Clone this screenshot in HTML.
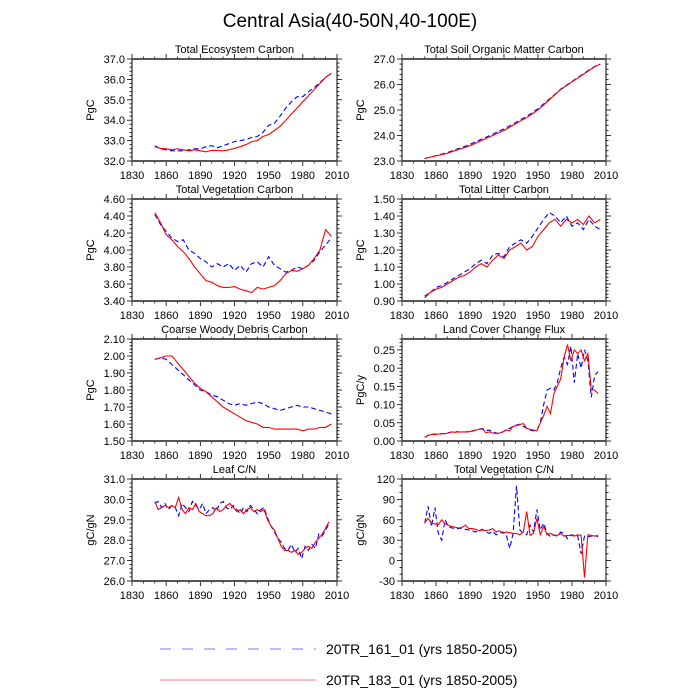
<!DOCTYPE html>
<html><head><meta charset="utf-8"><style>
body{margin:0;background:#fff;}
svg{display:block;font-family:"Liberation Sans",sans-serif;}
</style></head><body>
<svg id="c" width="700" height="700" viewBox="0 0 700 700" xmlns="http://www.w3.org/2000/svg">
<text x="350" y="27" font-size="19" text-anchor="middle">Central Asia(40-50N,40-100E)</text>
<g>
<line x1="160" y1="649" x2="316" y2="649" stroke="#7777ff" stroke-width="1" stroke-dasharray="11,11"/>
<text x="326" y="654" font-size="14">20TR_161_01 (yrs 1850-2005)</text>
<line x1="160" y1="680" x2="316" y2="680" stroke="#ff7777" stroke-width="1"/>
<text x="326" y="685" font-size="14">20TR_183_01 (yrs 1850-2005)</text>
</g>
</svg>
<script>
const years5 = [];
for (let y = 1850; y <= 2005; y += 5) years5.push(y);
const years3 = [];
for (let y = 1850; y <= 2003; y += 3) years3.push(y);

const tecRed = [32.7,32.62,32.6,32.55,32.6,32.55,32.5,32.55,32.5,32.45,32.52,32.52,32.5,32.55,32.62,32.7,32.8,32.95,33.0,33.2,33.3,33.5,33.7,34.0,34.3,34.6,34.9,35.2,35.5,35.8,36.1,36.3];
const tecBlue = [32.75,32.6,32.55,32.5,32.5,32.5,32.55,32.6,32.6,32.7,32.75,32.65,32.75,32.85,32.95,33.0,33.05,33.15,33.2,33.4,33.75,33.85,34.2,34.6,34.9,35.15,35.15,35.4,35.6,35.85,36.1,36.3];
const somRed = [23.1,23.15,23.2,23.25,23.3,23.38,23.45,23.52,23.6,23.7,23.8,23.9,24.0,24.1,24.2,24.32,24.45,24.58,24.7,24.85,25.0,25.2,25.4,25.6,25.8,25.95,26.1,26.25,26.4,26.55,26.7,26.8];
const somBlue = [23.1,23.15,23.21,23.27,23.33,23.41,23.49,23.57,23.65,23.75,23.85,23.95,24.05,24.16,24.26,24.38,24.5,24.63,24.75,24.9,25.05,25.24,25.43,25.62,25.82,25.97,26.12,26.27,26.42,26.57,26.71,26.8];
const tvcRed = [4.44,4.32,4.18,4.12,4.04,3.98,3.90,3.80,3.72,3.64,3.62,3.58,3.56,3.56,3.57,3.54,3.52,3.50,3.56,3.54,3.56,3.58,3.64,3.72,3.76,3.75,3.78,3.82,3.90,4.00,4.24,4.16];
const tvcBlue = [4.42,4.30,4.22,4.14,4.10,4.12,4.00,3.96,3.90,3.86,3.80,3.84,3.80,3.84,3.76,3.82,3.74,3.84,3.86,3.80,3.92,3.82,3.78,3.74,3.76,3.80,3.78,3.82,3.88,3.98,4.06,4.14];
const litRed = [0.93,0.95,0.97,0.98,1.00,1.02,1.04,1.05,1.07,1.10,1.12,1.10,1.14,1.17,1.15,1.20,1.22,1.24,1.20,1.22,1.28,1.32,1.36,1.38,1.34,1.38,1.36,1.38,1.35,1.40,1.36,1.38];
const litBlue = [0.92,0.95,0.98,0.99,1.01,1.03,1.05,1.07,1.09,1.12,1.14,1.12,1.17,1.18,1.16,1.22,1.24,1.26,1.24,1.28,1.33,1.38,1.42,1.40,1.36,1.40,1.34,1.36,1.32,1.38,1.34,1.32];
const cwdRed = [1.98,1.99,2.00,2.00,1.96,1.92,1.88,1.84,1.81,1.79,1.76,1.73,1.70,1.68,1.66,1.64,1.62,1.61,1.60,1.58,1.58,1.57,1.57,1.57,1.57,1.57,1.56,1.57,1.57,1.58,1.58,1.60];
const cwdBlue = [1.98,1.99,1.98,1.95,1.92,1.89,1.86,1.83,1.80,1.79,1.77,1.76,1.74,1.72,1.71,1.72,1.71,1.72,1.73,1.72,1.70,1.69,1.68,1.69,1.70,1.71,1.70,1.70,1.69,1.68,1.67,1.66];
const lccRed = [0.01,0.015,0.018,0.018,0.019,0.02,0.02,0.022,0.025,0.024,0.025,0.025,0.025,0.025,0.028,0.03,0.032,0.033,0.022,0.025,0.022,0.02,0.022,0.025,0.03,0.028,0.04,0.042,0.045,0.048,0.035,0.032,0.03,0.028,0.05,0.07,0.095,0.075,0.13,0.15,0.17,0.23,0.265,0.22,0.25,0.24,0.25,0.22,0.24,0.14,0.14,0.13];
const lccBlue = [0.01,0.016,0.018,0.019,0.018,0.02,0.021,0.023,0.025,0.026,0.025,0.024,0.025,0.026,0.027,0.03,0.033,0.034,0.028,0.03,0.025,0.022,0.02,0.025,0.032,0.035,0.04,0.044,0.046,0.04,0.035,0.03,0.028,0.03,0.05,0.1,0.14,0.145,0.14,0.16,0.2,0.23,0.21,0.26,0.16,0.24,0.2,0.25,0.22,0.12,0.18,0.19];
const leafRed = [29.9,29.5,29.6,29.7,29.6,29.7,29.6,30.1,29.5,29.3,29.6,29.5,29.8,29.4,29.3,29.2,29.2,29.3,29.6,29.4,29.5,29.7,29.8,29.6,29.4,29.5,29.3,29.5,29.6,29.4,29.5,29.4,29.5,29.0,28.7,28.5,28.1,27.7,27.5,27.5,27.4,27.5,27.3,27.4,27.6,27.7,27.6,27.9,28.1,28.3,28.6,28.9];
const leafBlue = [29.8,29.9,29.6,29.8,29.5,29.7,29.6,29.2,29.8,29.6,29.4,29.9,29.7,29.5,29.8,29.3,29.5,29.6,29.4,29.8,29.9,29.6,29.5,29.7,29.5,29.3,29.6,29.4,29.7,29.5,29.3,29.5,29.6,29.1,28.7,28.4,28.1,27.9,27.6,27.5,27.8,27.4,27.6,27.1,27.7,27.5,27.8,27.6,28.3,28.2,28.5,28.8];
const vcnRed = [56,62,55,54,53,60,54,52,50,49,48,49,52,47,47,46,44,45,44,45,47,42,44,40,42,41,40,40,38,42,72,37,40,62,38,50,38,40,37,37,40,36,37,37,36,38,37,-25,38,37,36,37];
const vcnBlue = [55,80,50,78,40,30,60,50,48,47,47,48,46,45,44,42,44,46,42,40,43,38,40,42,38,18,40,110,45,40,38,52,42,75,45,55,40,35,38,36,42,40,32,38,37,36,10,36,35,36,37,35];

const xTicks = [1830,1860,1890,1920,1950,1980,2010];

const svg = document.getElementById('c');
const NS = 'http://www.w3.org/2000/svg';
function mk(tag, attrs, parent) {
  const e = document.createElementNS(NS, tag);
  for (const k in attrs) e.setAttribute(k, attrs[k]);
  parent.appendChild(e);
  return e;
}

const panels = [
  {name:'total-ecosystem-carbon', title:'Total Ecosystem Carbon', unit:'PgC', col:0,row:0, ymin:32, ymax:37, step:1, minor:0.2, dec:1, x:years5, red:tecRed, blue:tecBlue},
  {name:'total-soil-organic-matter-carbon', title:'Total Soil Organic Matter Carbon', unit:'PgC', col:1,row:0, ymin:23, ymax:27, step:1, minor:0.2, dec:1, x:years5, red:somRed, blue:somBlue},
  {name:'total-vegetation-carbon', title:'Total Vegetation Carbon', unit:'PgC', col:0,row:1, ymin:3.4, ymax:4.6, step:0.2, minor:0.05, dec:2, x:years5, red:tvcRed, blue:tvcBlue},
  {name:'total-litter-carbon', title:'Total Litter Carbon', unit:'PgC', col:1,row:1, ymin:0.9, ymax:1.5, step:0.1, minor:0.02, dec:2, x:years5, red:litRed, blue:litBlue},
  {name:'coarse-woody-debris-carbon', title:'Coarse Woody Debris Carbon', unit:'PgC', col:0,row:2, ymin:1.5, ymax:2.1, step:0.1, minor:0.02, dec:2, x:years5, red:cwdRed, blue:cwdBlue},
  {name:'land-cover-change-flux', title:'Land Cover Change Flux', unit:'PgC/y', col:1,row:2, ymin:0, ymax:0.28, step:0.05, minor:0.01, dec:2, x:years3, red:lccRed, blue:lccBlue},
  {name:'leaf-cn', title:'Leaf C/N', unit:'gC/gN', col:0,row:3, ymin:26, ymax:31, step:1, minor:0.2, dec:1, x:years3, red:leafRed, blue:leafBlue},
  {name:'total-vegetation-cn', title:'Total Vegetation C/N', unit:'gC/gN', col:1,row:3, ymin:-30, ymax:120, step:30, minor:10, dec:0, x:years3, red:vcnRed, blue:vcnBlue}
];

const colL = [132, 402], colW = [205, 204];
const rowT = [59, 199, 339, 479], H = 102;

panels.forEach(p => {
  const L = colL[p.col], W = colW[p.col], T = rowT[p.row], B = T + H, R = L + W;
  const g = mk('g', {}, svg);
  
  
  const sx = v => L + (v - 1830) / 180 * W;
  const sy = v => B - (v - p.ymin) / (p.ymax - p.ymin) * H;
  const t = mk('text', {x: L + W/2, y: T - 6, 'font-size': 11, 'text-anchor': 'middle'}, g);
  t.textContent = p.title;
  
  
  const yt = mk('text', {x: 0, y: 0, 'font-size': 11, 'text-anchor': 'middle', transform: `translate(${L - 38},${T + H/2}) rotate(-90)`}, g);
  yt.textContent = p.unit;
  
  
  const tk = mk('g', {stroke: '#000', 'stroke-width': 0.8}, g);
  
  
  for (let yr = 1830; yr <= 2010; yr += 10) {
    const len = (yr - 1830) % 30 === 0 ? 5 : 2.5;
    const x = sx(yr);
    mk('line', {x1: x, y1: B, x2: x, y2: B + len}, tk);
    mk('line', {x1: x, y1: T, x2: x, y2: T - len}, tk);
  }
  xTicks.forEach(yr => {
    const lb = mk('text', {x: sx(yr), y: B + 18, 'font-size': 11, 'text-anchor': 'middle'}, g);
    lb.textContent = yr;
    
    
  });
  const nMin = Math.round((p.ymax - p.ymin) / p.minor);
  for (let i = 0; i <= nMin; i++) {
    const v = p.ymin + i * p.minor;
    const isMaj = Math.abs(((v - p.ymin) / p.step) - Math.round((v - p.ymin) / p.step)) < 1e-6;
    const len = isMaj ? 5 : 2.5;
    const y = sy(v);
    mk('line', {x1: L, y1: y, x2: L - len, y2: y}, tk);
    mk('line', {x1: R, y1: y, x2: R + len, y2: y}, tk);
  }
  const nMaj = Math.floor((p.ymax - p.ymin) / p.step + 1e-6);
  for (let i = 0; i <= nMaj; i++) {
    const v = p.ymin + i * p.step;
    const lb = mk('text', {x: L - 7, y: sy(v) + 4, 'font-size': 11, 'text-anchor': 'end'}, g);
    lb.textContent = v.toFixed(p.dec);
    
    
  }
  const path = arr => arr.map((v, i) => (i ? 'L' : 'M') + sx(p.x[i]).toFixed(1) + ',' + sy(v).toFixed(1)).join('');
  const bl = mk('path', {d: path(p.blue), fill: 'none', stroke: '#0000ff', 'stroke-width': 1.1, 'stroke-dasharray': '5,3'}, g);
  
  
  const rd = mk('path', {d: path(p.red), fill: 'none', stroke: '#ff0000', 'stroke-width': 1.1}, g);
  
  
  const fr = mk('rect', {x: L, y: T, width: W, height: H, fill: 'none', stroke: '#000', 'stroke-width': 1}, g);
  
  
  const ft = mk('line', {x1: L, y1: T, x2: R, y2: T, stroke: '#555', 'stroke-width': 2}, g);
  
  
  const fb = mk('line', {x1: L, y1: B, x2: R, y2: B, stroke: '#555', 'stroke-width': 2}, g);
  
  
});
</script>
</body></html>
